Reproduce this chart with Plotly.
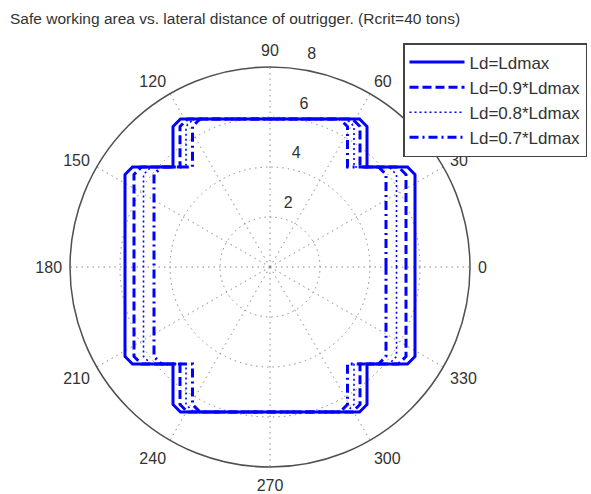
import numpy as np
import plotly.graph_objects as go

# Safe working area outlines for different lateral outrigger extensions
series_names = ["Ld=Ldmax", "Ld=0.9*Ldmax", "Ld=0.8*Ldmax", "Ld=0.7*Ldmax"]
side_half_width = [5.80, 5.44, 5.06, 4.64]   # lateral reach of the side lobes
top_half_width = [3.88, 3.60, 3.36, 3.10]    # half width of the front/rear lobes
top_edge = 5.92        # front limit (shared)
upper_step = 4.00      # front step height (shared)
bottom_edge = -5.80    # rear limit (shared)
lower_step = -3.88     # rear step height (shared)
corner_cut = 0.30      # rounding of the convex corners

ring_ticks = [2, 4, 6, 8]
angle_ticks = list(range(0, 360, 30))
angle_labels = [str(a) for a in angle_ticks]

title_text = "Safe working area vs. lateral distance of outrigger. (Rcrit=40 tons)"

line_styles = [
    dict(width=3, dash="solid"),
    dict(width=3, dash="9px,4px"),
    dict(width=1.6, dash="2px,3px"),
    dict(width=3, dash="9px,4px,2px,4px"),
]
BLUE = "#0000FF"
TEXT = "#333333"
GRID = "#8a8a8a"
FONT = "Liberation Sans, Arial"


def outline(S, T):
    """Corner list of the cross-shaped boundary, flagged convex/concave."""
    pts = [
        (S, 0, False),
        (S, upper_step, True), (T, upper_step, False), (T, top_edge, True),
        (-T, top_edge, True), (-T, upper_step, False), (-S, upper_step, True),
        (-S, lower_step, True), (-T, lower_step, False), (-T, bottom_edge, True),
        (T, bottom_edge, True), (T, lower_step, False), (S, lower_step, True),
        (S, 0, False),
    ]
    xs, ys = [], []
    for i, (x, y, convex) in enumerate(pts):
        if convex and 0 < i < len(pts) - 1:
            px, py, _ = pts[i - 1]
            nx, ny, _ = pts[i + 1]
            d1 = np.hypot(x - px, y - py)
            d2 = np.hypot(nx - x, ny - y)
            xs += [x - (x - px) / d1 * corner_cut, x + (nx - x) / d2 * corner_cut]
            ys += [y - (y - py) / d1 * corner_cut, y + (ny - y) / d2 * corner_cut]
        else:
            xs.append(x)
            ys.append(y)
    xs, ys = np.array(xs), np.array(ys)
    return np.hypot(xs, ys), np.degrees(np.arctan2(ys, xs))


fig = go.Figure()
for name, S, T, style in zip(series_names, side_half_width, top_half_width, line_styles):
    r, th = outline(S, T)
    fig.add_trace(go.Scatterpolar(
        r=r, theta=th, mode="lines", name=name,
        line=dict(color=BLUE, width=style["width"], dash=style["dash"]),
    ))

r_max = ring_ticks[-1]

# Ring value labels, set just off an 81 degree ray
fig.add_trace(go.Scatterpolar(
    r=ring_ticks, theta=[81] * len(ring_ticks), mode="markers+text",
    text=[str(v) for v in ring_ticks], textposition="top right",
    marker=dict(size=8, color="rgba(0,0,0,0)"),
    textfont=dict(size=16, color=TEXT, family=FONT),
    showlegend=False, hoverinfo="skip", cliponaxis=False,
))

W, H = 591, 494
cx, cy, R = 270, 267, 200

fig.update_layout(
    width=W, height=H,
    margin=dict(l=0, r=0, t=0, b=0),
    paper_bgcolor="white",
    font=dict(family=FONT, size=16, color=TEXT),
    polar=dict(
        domain=dict(x=[(cx - R) / W, (cx + R) / W],
                    y=[(H - cy - R) / H, (H - cy + R) / H]),
        bgcolor="white",
        radialaxis=dict(
            range=[0, r_max], tickvals=ring_ticks, showticklabels=False,
            ticks="", showline=False, gridcolor=GRID, griddash="1.5px,4px",
            gridwidth=1,
        ),
        angularaxis=dict(
            direction="counterclockwise", rotation=0,
            tickvals=angle_ticks, ticktext=angle_labels,
            ticks="outside", ticklen=4, tickcolor="rgba(0,0,0,0)",
            tickfont=dict(size=16, color=TEXT, family=FONT),
            showline=True, linecolor="#505050", linewidth=1.5,
            gridcolor=GRID, griddash="1.5px,4px", gridwidth=1,
        ),
    ),
    legend=dict(
        x=403 / W, y=1 - 43 / H, xanchor="left", yanchor="top",
        bgcolor="white", bordercolor="#444444", borderwidth=1.5,
        font=dict(size=17, color=TEXT, family=FONT),
        itemwidth=55, tracegroupgap=0,
    ),
    annotations=[dict(
        text=title_text, xref="paper", yref="paper",
        x=8 / W, y=1 - 18 / H, xanchor="left", yanchor="middle",
        showarrow=False, font=dict(size=15.5, color=TEXT, family=FONT),
    )],
)

fig.write_html("out.html")
